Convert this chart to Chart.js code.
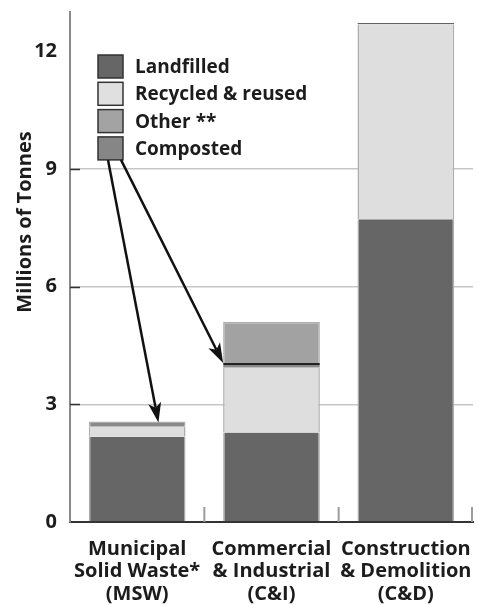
<!DOCTYPE html>
<html><head><meta charset="utf-8">
<script src="https://cdn.jsdelivr.net/npm/chart.js@4.4.0/dist/chart.umd.min.js"></script>
<style>html,body{margin:0;padding:0;background:#fff;}canvas{display:block;}</style>
</head><body>
<canvas id="c" width="478" height="605"></canvas>
<script>
const categories = [["Municipal","Solid Waste*","(MSW)"],["Commercial","& Industrial","(C&I)"],["Construction","& Demolition","(C&D)"]];
const landfilled = [2.17, 2.28, 7.72];
const recycled = [0.26, 1.65, 4.96];
const composted = [0.13, 0.12, 0.04];
const other = [0, 1.05, 0];
const yTicks = [0, 3, 6, 9, 12];
const legendLabels = ["Landfilled", "Recycled & reused", "Other **", "Composted"];
const yTitle = "Millions of Tonnes";

const FONT = "'Open Sans', 'Noto Sans', sans-serif";
const TXT = '#1c1c1c';
const EDGE = '#adadad';
const COL = {land:'#666666', rec:'#dedede', other:'#a2a2a2', comp:'#898989'};
const LEG_COL = [COL.land, '#e0e0e0', '#a3a3a3', '#868686'];

function arrow(ctx, x0, y0, x1, y1) {
  const ang = Math.atan2(y1 - y0, x1 - x0);
  const L = 20, W = 6.5;
  const bx = x1 - Math.cos(ang) * L * 0.75, by = y1 - Math.sin(ang) * L * 0.75;
  ctx.beginPath(); ctx.moveTo(x0, y0); ctx.lineTo(bx, by); ctx.stroke();
  const px = -Math.sin(ang), py = Math.cos(ang);
  const rx = x1 - Math.cos(ang) * L, ry = y1 - Math.sin(ang) * L;
  ctx.beginPath();
  ctx.moveTo(x1, y1);
  ctx.lineTo(rx + px * W, ry + py * W);
  ctx.lineTo(bx, by);
  ctx.lineTo(rx - px * W, ry - py * W);
  ctx.closePath(); ctx.fill();
}

const deco = {
  id: 'deco',
  afterDatasetsDraw(chart) {
    const {ctx, chartArea: a, scales: {x, y}} = chart;
    ctx.save();
    // inner y ticks
    ctx.strokeStyle = '#333'; ctx.lineWidth = 1.5;
    yTicks.slice(1, -1).forEach(v => {
      const p = Math.round(y.getPixelForValue(v)) + 0.5;
      ctx.beginPath(); ctx.moveTo(a.left, p); ctx.lineTo(a.left + 10, p); ctx.stroke();
    });
    // category boundary ticks at bottom
    ctx.strokeStyle = '#9c9c9c'; ctx.lineWidth = 2;
    for (let i = 0; i < categories.length; i++) {
      const bx = i < categories.length - 1 ? (x.getPixelForValue(i) + x.getPixelForValue(i + 1)) / 2 : a.right - 1;
      ctx.beginPath(); ctx.moveTo(bx, a.bottom); ctx.lineTo(bx, a.bottom - 15); ctx.stroke();
    }
    // y title
    ctx.save();
    ctx.translate(25, 222); ctx.rotate(-Math.PI / 2);
    ctx.fillStyle = TXT; ctx.font = "bold 20px " + FONT;
    ctx.textAlign = 'center'; ctx.textBaseline = 'middle';
    ctx.fillText(yTitle, 0, 0);
    ctx.restore();
    // legend
    const lx = 98, ly = 55, pitch = 27.3, bw = 25, bh = 23;
    ctx.font = "bold 19px " + FONT; ctx.textBaseline = 'middle'; ctx.textAlign = 'left';
    legendLabels.forEach((t, i) => {
      const top = ly + i * pitch;
      ctx.fillStyle = LEG_COL[i]; ctx.fillRect(lx, top, bw, bh);
      ctx.strokeStyle = '#333'; ctx.lineWidth = 1.5; ctx.strokeRect(lx, top, bw, bh);
      ctx.fillStyle = TXT; ctx.fillText(t, lx + 37, top + bh / 2 + 1);
    });
    // arrows from "Composted" box to composted segments
    const cTop = ly + 3 * pitch + bh;
    const cm = chart.getDatasetMeta(2).data;
    ctx.strokeStyle = '#111'; ctx.fillStyle = '#111'; ctx.lineWidth = 2.5;
    arrow(ctx, lx + 10, cTop, cm[0].x + cm[0].width * 0.22, cm[0].y + 1);
    arrow(ctx, lx + 23, cTop, cm[1].x - cm[1].width / 2, cm[1].y);
    ctx.restore();
  }
};

const side = {left: 1.5, right: 1.5, top: 0, bottom: 0};
const sideTop = {left: 1.5, right: 1.5, top: 1.5, bottom: 0};

new Chart(document.getElementById('c'), {
  type: 'bar',
  data: {
    labels: categories,
    datasets: [
      {label: legendLabels[0], data: landfilled, backgroundColor: COL.land, borderColor: EDGE, borderWidth: side, borderSkipped: false},
      {label: legendLabels[1], data: recycled, backgroundColor: COL.rec, borderColor: EDGE, borderWidth: side, borderSkipped: false},
      {label: legendLabels[3], data: composted, backgroundColor: COL.comp,
        borderColor: ctx => ctx.dataIndex === 0 ? EDGE : '#222',
        borderWidth: ctx => ctx.dataIndex === 0 ? sideTop : {left: 0, right: 0, top: 2, bottom: 0}, borderSkipped: false},
      {label: legendLabels[2], data: other, backgroundColor: COL.other, borderColor: EDGE, borderWidth: sideTop, borderSkipped: false}
    ]
  },
  options: {
    responsive: false,
    animation: false,
    devicePixelRatio: 1,
    layout: {padding: {top: 12, right: 5, left: 0, bottom: 0}},
    datasets: {bar: {categoryPercentage: 1, barPercentage: 0.72}},
    plugins: {legend: {display: false}, tooltip: {enabled: false}},
    scales: {
      x: {
        stacked: true,
        grid: {display: false},
        border: {display: true, color: '#333', width: 2},
        ticks: {color: TXT, font: {family: FONT, size: 20, weight: 'bold', lineHeight: 1.12}, padding: 8, maxRotation: 0, autoSkip: false},
        afterFit: s => { s.height = 83; s.paddingLeft = 0; s.paddingRight = 0; }
      },
      y: {
        stacked: true,
        min: 0, max: 13,
        afterBuildTicks: s => { s.ticks = yTicks.map(v => ({value: v})); },
        grid: {drawTicks: false, lineWidth: 1.5, color: c => (c.tick && c.tick.value > 0 && c.tick.value < 12) ? '#c6c6c6' : 'rgba(0,0,0,0)'},
        border: {display: true, color: '#8a8a8a', width: 2},
        ticks: {color: TXT, font: {family: FONT, size: 20, weight: 'bold'}, padding: 13},
        afterFit: s => { s.width = 70; s.paddingTop = 0; s.paddingBottom = 0; }
      }
    }
  },
  plugins: [deco]
});
</script>
</body></html>
